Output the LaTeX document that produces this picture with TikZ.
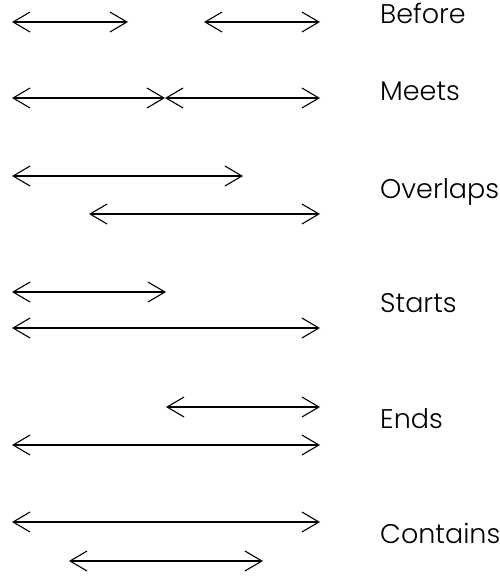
\documentclass[tikz,border=0pt]{standalone}
\usepackage{fontspec}
\newfontfamily\labelfont{Poppins}[UprightFont=* Light]
\usetikzlibrary{arrows.meta, positioning}
\tikzstyle{interval} = [line width=1.1pt, <->, >={Straight Barb[length=17pt, width=20pt]}]
\tikzstyle{rel} = [anchor=base west, inner sep=0pt, font=\labelfont\fontsize{27}{27}\selectfont]

\begin{document}
\begin{tikzpicture}[x=1pt, y=-1pt]
    \useasboundingbox (0,0) rectangle (500,576);

    % Before
    \coordinate (b1s) at (12,22);  \coordinate (b1e) at (128,22);
    \coordinate (b2s) at (204,22); \coordinate (b2e) at (320,22);
    \draw[interval] (b1s) -- (b1e);
    \draw[interval] (b2s) -- (b2e);
    \node[rel] (before) at (380,23) {Before};

    % Meets
    \coordinate (m1s) at (12,98);  \coordinate (mmid) at (165,98);
    \coordinate (m2e) at (320,98);
    \draw[interval] (m1s) -- (mmid);
    \draw[interval] (mmid) -- (m2e);
    \node[rel] (meets) at (380,100) {Meets};

    % Overlaps
    \coordinate (o1s) at (12,176); \coordinate (o1e) at (243,176);
    \coordinate (o2s) at (89,214); \coordinate (o2e) at (320,214);
    \draw[interval] (o1s) -- (o1e);
    \draw[interval] (o2s) -- (o2e);
    \node[rel] (overlaps) at (380,198) {Overlaps};

    % Starts
    \coordinate (s1s) at (12,292); \coordinate (s1e) at (166,292);
    \coordinate (s2s) at (12,328); \coordinate (s2e) at (320,328);
    \draw[interval] (s1s) -- (s1e);
    \draw[interval] (s2s) -- (s2e);
    \node[rel] (starts) at (380,312) {Starts};

    % Ends
    \coordinate (e1s) at (166,407); \coordinate (e1e) at (320,407);
    \coordinate (e2s) at (12,445);  \coordinate (e2e) at (320,445);
    \draw[interval] (e1s) -- (e1e);
    \draw[interval] (e2s) -- (e2e);
    \node[rel] (ends) at (380,428) {Ends};

    % Contains
    \coordinate (c1s) at (12,522); \coordinate (c1e) at (320,522);
    \coordinate (c2s) at (69,561); \coordinate (c2e) at (263,561);
    \draw[interval] (c1s) -- (c1e);
    \draw[interval] (c2s) -- (c2e);
    \node[rel] (contains) at (380,543) {Contains};
\end{tikzpicture}
\end{document}
